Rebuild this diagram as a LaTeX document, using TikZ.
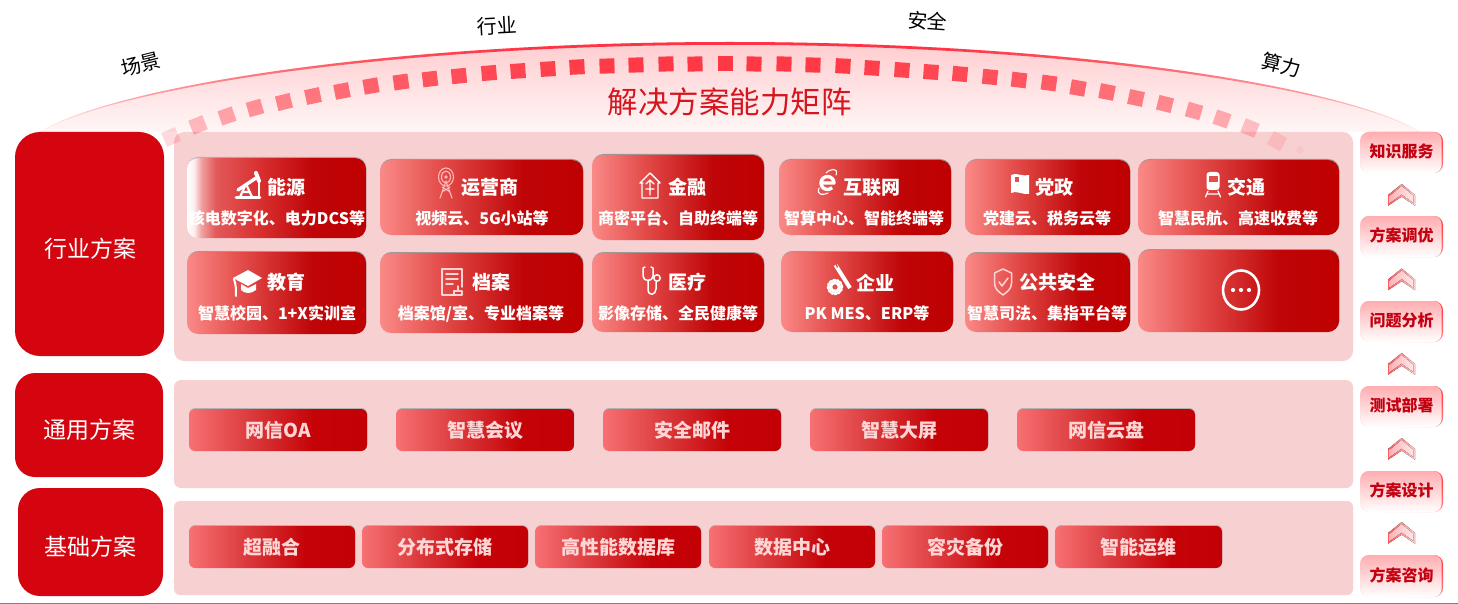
\documentclass[tikz,border=0pt]{standalone}
\usepackage{fontspec}
\setmainfont{Noto Sans CJK SC}
\usetikzlibrary{shadows,shapes.geometric}
\definecolor{red1}{HTML}{D50510}
\definecolor{panelc}{HTML}{F7D0D2}
\definecolor{sq}{HTML}{FF3542}
\definecolor{titlec}{HTML}{D5161F}
\definecolor{btntext}{HTML}{FFD6D6}
\definecolor{sidetext}{HTML}{C20010}
\definecolor{pale}{HTML}{FFB8B8}
\definecolor{iconbg}{HTML}{E2504C}
\definecolor{FF4850}{HTML}{FF4850}
\definecolor{FFE6E6}{HTML}{FFE6E6}
\definecolor{FFADB0}{HTML}{FFADB0}
\definecolor{FF5A60}{HTML}{FF5A60}
\definecolor{FFD0D0}{HTML}{FFD0D0}
\definecolor{FFB4B8}{HTML}{FFB4B8}
\definecolor{FFE8E8}{HTML}{FFE8E8}
\definecolor{FFCDD0}{HTML}{FFCDD0}
\definecolor{FFF6F6}{HTML}{FFF6F6}
\pgfdeclarehorizontalshading{cardsh}{100bp}{rgb(0bp)=(0.98,0.54,0.53); rgb(25bp)=(0.98,0.54,0.53); rgb(40bp)=(0.89,0.30,0.29); rgb(60bp)=(0.75,0.02,0.03); rgb(75bp)=(0.75,0,0); rgb(100bp)=(0.75,0,0)}
\pgfdeclarehorizontalshading{fadesh}{100bp}{rgb(0bp)=(1,1,1); rgb(25bp)=(1,1,1); rgb(27bp)=(0.99,0.93,0.93); rgb(29bp)=(0.94,0.63,0.63); rgb(33bp)=(0.89,0.35,0.35); rgb(45bp)=(0.85,0.19,0.19); rgb(60bp)=(0.75,0.02,0.03); rgb(75bp)=(0.75,0,0); rgb(100bp)=(0.75,0,0)}
\pgfdeclarehorizontalshading{btnsh}{100bp}{rgb(0bp)=(0.97,0.44,0.45); rgb(25bp)=(0.97,0.44,0.45); rgb(42bp)=(0.86,0.23,0.24); rgb(60bp)=(0.77,0.01,0.03); rgb(75bp)=(0.76,0,0.02); rgb(100bp)=(0.76,0,0.02)}
\pgfdeclarehorizontalshading{linesh}{100bp}{rgb(0bp)=(1,0.86,0.86); rgb(25bp)=(1,0.86,0.86); rgb(29bp)=(1,0.6,0.62); rgb(37bp)=(1,0.32,0.36); rgb(43bp)=(1,0.2,0.27); rgb(57bp)=(1,0.2,0.27); rgb(63bp)=(1,0.32,0.36); rgb(71bp)=(1,0.6,0.62); rgb(75bp)=(1,0.86,0.86); rgb(100bp)=(1,0.86,0.86)}
\tikzset{
  mainbox/.style={fill=red1,rounded corners=#1},
  maintxt/.style={text=white,inner sep=0pt,font=\fontsize{23}{23}\selectfont},
  panelbox/.style={fill=panelc,rounded corners=#1},
  cardbox/.style={shading=cardsh,rounded corners=11pt,general shadow={fill=black!40,shadow xshift=0.4pt,shadow yshift=1pt}},
  fadebox/.style={shading=fadesh,rounded corners=11pt,general shadow={fill=black!30,shadow xshift=0.4pt,shadow yshift=1pt}},
  btnbox/.style={shading=btnsh,rounded corners=6pt,text=btntext,font=\bfseries\fontsize{19}{19}\selectfont,general shadow={fill=black!30,shadow xshift=0.3pt,shadow yshift=1pt}},
  headtxt/.style={text=white,inner sep=0pt,font=\bfseries\fontsize{19}{19}\selectfont},
  subtxt/.style={text=white,inner sep=0pt,font=\bfseries\fontsize{16}{16}\selectfont},
  toptxt/.style={text=black,inner sep=0pt,font=\fontsize{20}{20}\selectfont},
  sideout/.style={shading=axis,left color=FF4850,right color=FFE6E6,shading angle=-35,rounded corners=9pt},
  sidein/.style={shading=axis,top color=FFADB0,bottom color=white,rounded corners=8pt},
  sidetxt/.style={text=sidetext,inner sep=0pt,font=\bfseries\fontsize{16}{16}\selectfont},
  ico/.style={white,line width=1.6pt,line cap=round,line join=round},
}
\newcommand{\bx}[7]{%
  \pgfmathsetmacro\bw{#5-#3}\pgfmathsetmacro\bh{#6-#4}%
  \node[#1,minimum width=\bw pt,minimum height=\bh pt,inner sep=0pt] (#2) at ({(#3+#5)/2},{(#4+#6)/2}) {#7};}
\newcommand{\sidebx}[4]{%
  \bx{sideout}{#1o}{1360}{#2}{1443}{#3}{}%
  \bx{sidein}{#1}{1361.5}{#2+1.5}{1441.5}{#3-1.5}{}%
  \node[sidetxt] (#1t) at (1401.5,{(#2+#3)/2-1}) {#4};}
\newcommand{\chev}[1]{%
  \begin{scope}[shift={(0,#1)}]
    \fill[left color=FF5A60,right color=FFD0D0] (1388,195)--(1401.7,184)--(1415,195)--(1415,205.7)--(1401.7,196.7)--(1388,205.7)--cycle;
    \fill[left color=FFB4B8,right color=FFE8E8] (1389.5,196)--(1401.7,186)--(1413.5,196)--(1413.5,203)--(1401.7,194.5)--(1389.5,203)--cycle;
  \end{scope}}
\begin{document}
\begin{tikzpicture}[x=1pt,y=-1pt]
\useasboundingbox (0,0) rectangle (1458,604);
% dome
\path[shading=axis,top color=FFCDD0,bottom color=FFF6F6] (40,132) .. controls (110,88) and (380,42) .. (730,42) .. controls (1080,42) and (1350,88) .. (1420,132) -- cycle;
\path[shading=linesh] (40,132) .. controls (110,88) and (380,42) .. (730,42) .. controls (1080,42) and (1350,88) .. (1420,132) .. controls (1350,90) and (1080,44.8) .. (730,44.8) .. controls (380,44.8) and (110,90) .. (40,132) -- cycle;
% panels
\bx{panelbox=10pt}{panA}{174}{132}{1353}{361}{}
\bx{panelbox=7pt}{panB}{174}{380}{1353}{488}{}
\bx{panelbox=6pt}{panC}{174}{501}{1353}{595}{}
% dashes of the arc
\foreach \qx/\qy/\qa in {171/137/24,198/125/22,227/116/19,255/108/16,284/102/14,313/96/12,342/91/11,371/86/10,401/82/8,430/79/7,459/76/6,489/73/5,518/71/4,548/69/3.5,577/67/3,607/66/2,636/65/2,666/64/1,695/64/1,725/64/0,754/64/-1,784/64/-1,813/65/-2,843/66/-3,872/68/-3.5,902/70/-4,931/72/-4,960/74/-5,990/77/-6,1019/80/-7,1049/83/-8,1078/88/-10,1107/92/-11,1136/98/-12,1165/104/-14,1194/111/-16,1222/119/-19,1250/128/-22,1277/141/-28}{
  \pgfmathsetmacro\qo{1-(\qy-62)/92}
  \fill[sq,fill opacity=\qo,shift={(\qx,\qy)},rotate=\qa] (-7.5pt,-7.5pt) rectangle (7.5pt,7.5pt);
}
\fill[sq,fill opacity=0.06,shift={(1300,150)},rotate=-30] (-3pt,-3pt) rectangle (3pt,3pt);
% top labels
\node[toptxt,rotate=14] (lA) at (141,64) {场景};
\node[toptxt,rotate=3] (lB) at (497.5,26) {行业};
\node[toptxt,rotate=-4] (lC) at (927.5,21) {安全};
\node[toptxt,rotate=-14] (lD) at (1281.5,65) {算力};
\node[text=titlec,inner sep=0pt,font=\fontsize{30.5}{31}\selectfont] (title) at (729.5,102) {解决方案能力矩阵};
% left boxes
\bx{mainbox=25pt}{mA}{15}{132}{164}{356}{}
\bx{mainbox=20pt}{mB}{15}{373}{163}{477}{}
\bx{mainbox=22pt}{mC}{18}{488}{163}{596}{}
\node[maintxt] (mAt) at (90,249) {行业方案};
\node[maintxt] (mBt) at (89.5,430) {通用方案};
\node[maintxt] (mCt) at (90.5,547) {基础方案};
% cards row 1
\bx{fadebox}{c1}{187}{158}{366}{238}{}
\bx{cardbox}{c2}{380}{160}{583}{235}{}
\bx{cardbox}{c3}{592}{155}{764}{240}{}
\bx{cardbox}{c4}{779}{160}{951}{235}{}
\bx{cardbox}{c5}{965}{160}{1130}{235}{}
\bx{cardbox}{c6}{1138}{160}{1339}{235}{}
% cards row 2
\bx{cardbox}{d1}{187}{252}{366}{334}{}
\bx{cardbox}{d2}{380}{253}{583}{333}{}
\bx{cardbox}{d3}{592}{253}{764}{332}{}
\bx{cardbox}{d4}{781}{252}{953}{332}{}
\bx{cardbox}{d5}{965}{253}{1130}{332}{}
\bx{cardbox}{d6}{1138}{250}{1339}{332}{}
% card heads
\node[headtxt] (h1) at (286,187.5) {能源};
\node[headtxt] (h2) at (490,187.5) {运营商};
\node[headtxt] (h3) at (687,187.5) {金融};
\node[headtxt] (h4) at (872,187.5) {互联网};
\node[headtxt] (h5) at (1054,187.5) {党政};
\node[headtxt] (h6) at (1246,187.5) {交通};
\node[headtxt] (k1) at (286,282.5) {教育};
\node[headtxt] (k2) at (491,282.5) {档案};
\node[headtxt] (k3) at (687,282.5) {医疗};
\node[headtxt] (k4) at (875,282.5) {企业};
\node[headtxt] (k5) at (1057,282.5) {公共安全};
% card subs
\node[subtxt] (s1) at (277,218.5) {核电数字化、电力DCS等};
\node[subtxt] (s2) at (482,218.5) {视频云、5G小站等};
\node[subtxt] (s3) at (678,218.5) {商密平台、自助终端等};
\node[subtxt] (s4) at (864,218.5) {智算中心、智能终端等};
\node[subtxt] (s5) at (1047,218.5) {党建云、税务云等};
\node[subtxt] (s6) at (1238,218.5) {智慧民航、高速收费等};
\node[subtxt] (t1) at (277,313.5) {智慧校园、1+X实训室};
\node[subtxt] (t2) at (481,313.5) {档案馆/室、专业档案等};
\node[subtxt] (t3) at (678,313.5) {影像存储、全民健康等};
\node[subtxt] (t4) at (867,313.5) {PK MES、ERP等};
\node[subtxt] (t5) at (1047,313.5) {智慧司法、集指平台等};
% icons
\begin{scope}[shift={(248,186)},ico]
  \draw[line width=2.8pt] (-12,11.5)--(12,11.5);
  \draw[line width=2.2pt] (-8,11)--(-2,-2)--(4,11) (-6,6)--(2,6);
  \draw[line width=3.4pt] (-10,4)--(8,-8);
  \draw[line width=4pt] (8,-13)--(11,-5);
  \draw[line width=1.4pt] (11,-5)--(11,10);
\end{scope}
\begin{scope}[shift={(446,184)},ico,pale,line width=1.1pt]
  \draw (0,-7) ellipse [x radius=7.5pt,y radius=9pt];
  \draw (0,-7) ellipse [x radius=4.5pt,y radius=6pt];
  \fill (0,-7) circle (1.8pt);
  \draw (0,-3)--(-6,14) (0,-3)--(6,14) (-4,8)--(4,3) (4,8)--(-4,3);
\end{scope}
\begin{scope}[shift={(650,186)},ico,line width=1.4pt]
  \draw (-7,-3)--(-10,-3)--(0,-13)--(10,-3)--(8,-3)--(8,12)--(-8,12)--(-8,-3);
  \draw (0,9)--(0,-6) (-4,-2)--(0,-6)--(4,-2) (-4,3)--(4,3);
\end{scope}
\begin{scope}[shift={(828,182)},ico]
  \draw[line width=3.4pt,line cap=butt] (-5,1)--(6,1) arc[start angle=0,end angle=315,radius=6.5pt];
  \draw[line width=1.1pt] (8,-7) .. controls (11,-14) and (3,-14) .. (-2,-9);
  \draw[line width=1.1pt] (-9,6) .. controls (-12,14) and (-4,13) .. (0,11);
\end{scope}
\begin{scope}[shift={(1020,184)}]
  \fill[white] (-9,-9) .. controls (-4,-12) and (3,-7) .. (9,-9) -- (9,10) .. controls (3,11) and (-4,6) .. (-9,9) -- cycle;
  \fill[iconbg] (-5,-7) rectangle (-1,-2);
\end{scope}
\begin{scope}[shift={(1213,184)},ico]
  \fill[white,rounded corners=3pt] (-6.5,-12) rectangle (6.5,6);
  \fill[iconbg] (-4.5,-8) rectangle (4.5,-2);
  \draw[line width=1.2pt] (-5,7)--(-7.5,13) (5,7)--(7.5,13) (-6.5,10)--(6.5,10);
\end{scope}
\begin{scope}[shift={(247,283)},ico]
  \fill[white] (-14,-5)--(1,-13)--(15,-5)--(1,3)--cycle;
  \fill[white] (-6,1)--(1,5)--(9,1)--(9,7) .. controls (4,11) and (-2,11) .. (-6,7) -- cycle;
  \draw[line width=2pt] (-13,-4) .. controls (-11,2) and (-11,6) .. (-11,13);
\end{scope}
\begin{scope}[shift={(452,282)},ico,pale!60!white,line width=1.4pt]
  \draw (5,13)--(-10,13)--(-10,-13)--(10,-13)--(10,5);
  \draw (-6,-8)--(6,-8) (-6,-3)--(6,-3) (-6,2)--(1,2);
  \draw (6,4)--(6,9) (2,9)--(10,9)--(10,13)--(2,13)--cycle;
\end{scope}
\begin{scope}[shift={(650,281)},ico,line width=1.5pt]
  \draw (-5,-14)--(-7,-13)--(-7,-5) .. controls (-7,1) and (3,1) .. (3,-5)--(3,-13)--(1,-14);
  \draw (-2,-1)--(-2,8) .. controls (-2,16) and (6,14) .. (6,8)--(6,1);
  \draw (7,-3) circle (3.2pt);
\end{scope}
\begin{scope}[shift={(838,280)},ico]
  \draw[line width=4pt,line cap=butt] (-2.5,-15)--(12,8);
  \draw[iconbg,line width=1.4pt,line cap=butt] (-2,-16.5)--(-0.5,-12.5);
  \draw[line width=2.4pt,dash pattern=on 2pt off 1.6pt] (-3,7) circle (7pt);
  \fill[white] (-3,7) circle (6pt);
  \fill[iconbg] (-3,7) circle (2.6pt);
\end{scope}
\begin{scope}[shift={(1003,282)},ico,pale!60!white,line width=1.5pt]
  \draw (0,-13)--(8.5,-9)--(8.5,1) .. controls (8.5,7) and (4,10) .. (0,13) .. controls (-4,10) and (-8.5,7) .. (-8.5,1)--(-8.5,-9)--cycle;
  \draw (-4,0)--(-1,4)--(5,-4);
\end{scope}
\node[draw=white,line width=2.6pt,ellipse,minimum width=36pt,minimum height=39pt,inner sep=0pt] (more) at (1241,290) {};
\fill[white] (1233,290) circle (2.1pt) (1241,290) circle (2.1pt) (1249,290) circle (2.1pt);
% general buttons
\bx{btnbox}{g1}{189}{409}{367}{451}{网信OA}
\bx{btnbox}{g2}{396}{409}{574}{451}{智慧会议}
\bx{btnbox}{g3}{603}{409}{781}{451}{安全邮件}
\bx{btnbox}{g4}{810}{409}{988}{451}{智慧大屏}
\bx{btnbox}{g5}{1017}{409}{1195}{451}{网信云盘}
% base buttons
\bx{btnbox}{b1}{189}{526}{355}{568}{超融合}
\bx{btnbox}{b2}{362}{526}{528}{568}{分布式存储}
\bx{btnbox}{b3}{535}{526}{701}{568}{高性能数据库}
\bx{btnbox}{b4}{709}{526}{875}{568}{数据中心}
\bx{btnbox}{b5}{882}{526}{1048}{568}{容灾备份}
\bx{btnbox}{b6}{1055}{526}{1222}{568}{智能运维}
% right column
\sidebx{r1}{132}{173}{知识服务}
\sidebx{r2}{216}{257}{方案调优}
\sidebx{r3}{301}{342}{问题分析}
\sidebx{r4}{386}{427}{测试部署}
\sidebx{r5}{471}{512}{方案设计}
\sidebx{r6}{555}{597}{方案咨询}
\chev{0}\chev{84.5}\chev{169}\chev{254}\chev{338}
% bottom rule
\fill[black!50] (0,602.5) rectangle (1458,604);
\end{tikzpicture}
\end{document}
